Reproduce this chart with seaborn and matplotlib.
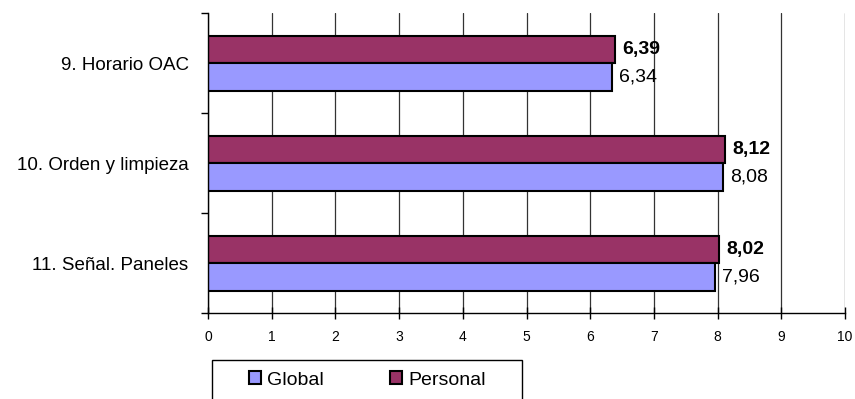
import pandas as pd
import numpy as np
import matplotlib.pyplot as plt
import matplotlib.patches as mpatches
import seaborn as sns

# data
categories = ['9. Horario OAC', '10. Orden y limpieza', '11. Señal. Paneles']
global_vals = [6.34, 8.08, 7.96]
personal_vals = [6.39, 8.12, 8.02]
series = ['Personal', 'Global']
colors = {'Global': '#9999FF', 'Personal': '#993366'}

df = pd.DataFrame({
    'cat': categories * 2,
    'serie': ['Global'] * 3 + ['Personal'] * 3,
    'valor': global_vals + personal_vals,
})

sns.set_style('white')
plt.rcParams['font.family'] = ['Liberation Sans', 'DejaVu Sans']
plt.rcParams['text.color'] = 'black'
plt.rcParams['xtick.color'] = 'black'
plt.rcParams['ytick.color'] = 'black'

fig = plt.figure(figsize=(8.55, 3.99), dpi=100)
ax = fig.add_axes([208 / 855, 1 - 313 / 399, 637 / 855, 300 / 399])

sns.barplot(data=df, y='cat', x='valor', hue='serie', order=categories,
            hue_order=series, palette=colors, orient='h', width=0.55,
            saturation=1, edgecolor='black', linewidth=1.5, ax=ax, legend=False)

# value labels
for cont, name in zip(ax.containers, series):
    for bar in cont:
        w = bar.get_width()
        y = bar.get_y() + bar.get_height() / 2
        ax.text(w + 0.11, y, f'{w:.2f}'.replace('.', ','), va='center', ha='left',
                fontsize=14, color='black',
                fontweight='bold' if name == 'Personal' else 'normal')

ax.set_xlim(0, 10)
ax.set_ylim(2.5, -0.5)
ax.set_xticks(range(0, 11))
ax.set_xlabel('')
ax.set_ylabel('')
ax.tick_params(axis='x', direction='inout', bottom=True, length=9, width=1,
               labelsize=10, pad=8)
ax.tick_params(axis='y', which='major', left=False, length=0, labelsize=13.5, pad=14)
ax.set_yticks([-0.5, 0.5, 1.5, 2.5], minor=True)
ax.tick_params(axis='y', which='minor', left=True, length=5, width=1, direction='out')
ax.grid(axis='x', color='#333333', linewidth=0.9)
ax.set_axisbelow(True)
for s in ['top', 'right']:
    ax.spines[s].set_visible(False)
for s in ['left', 'bottom']:
    ax.spines[s].set_color('black')
    ax.spines[s].set_linewidth(1)

# legend box
rect = mpatches.Rectangle((212 / 855, -0.05), 310 / 855, 0.05 + 39 / 399,
                          transform=fig.transFigure, fill=False,
                          edgecolor='black', linewidth=1)
fig.patches.append(rect)
handles = [mpatches.Patch(facecolor=colors[n], edgecolor='black', linewidth=1.5, label=n)
           for n in ['Global', 'Personal']]
fig.legend(handles=handles, ncol=2, frameon=False, loc='center left',
           bbox_to_anchor=(231 / 855, 1 - 380 / 399), fontsize=14,
           handlelength=0.65, handleheight=0.65, handletextpad=0.3, columnspacing=3.4)

fig.savefig('out.png', dpi=100)
